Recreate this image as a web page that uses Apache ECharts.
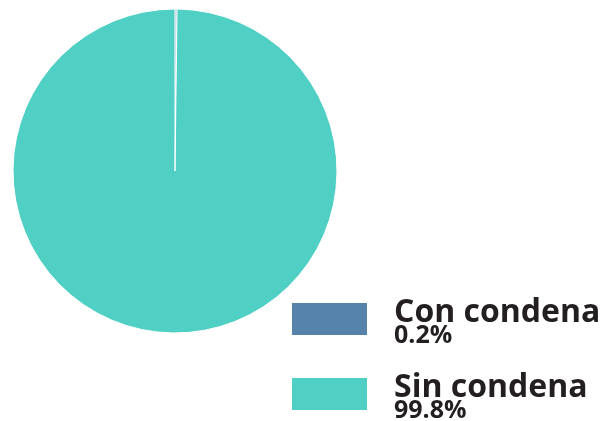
<!DOCTYPE html>
<html>
<head>
<meta charset="utf-8">
<style>
  html, body { margin: 0; padding: 0; background: #ffffff; }
  #chart { width: 614px; height: 421px; }
</style>
<script src="https://cdn.jsdelivr.net/npm/echarts@6/dist/echarts.min.js"></script>
</head>
<body>
<div id="chart"></div>
<script>
// Share of cases with and without a conviction
const categories = ['Con condena', 'Sin condena'];
const shares = [0.2, 99.8];
const colors = ['#5583a9', '#50d0c4'];

const chart = echarts.init(document.getElementById('chart'), null, { renderer: 'canvas' });

const pieData = categories.map((name, i) => ({
  name: name,
  value: shares[i],
  itemStyle: { color: colors[i] }
}));

// One legend block per category, stacked down the right-hand side
const legendTops = [297, 372];
const legends = categories.map((name, i) => ({
  orient: 'vertical',
  left: 292,
  top: legendTops[i],
  padding: 0,
  itemWidth: 75,
  itemHeight: 32,
  icon: 'rect',
  itemStyle: { borderWidth: 0 },
  selectedMode: false,
  data: [name],
  formatter: function (n) {
    const k = categories.indexOf(n);
    return '{n|' + n + '}\n{v|' + shares[k].toFixed(1) + '%}';
  },
  textStyle: {
    padding: [0, 0, 0, 22],
    rich: {
      n: {
        fontFamily: 'Open Sans',
        fontWeight: 'bold',
        fontSize: 32,
        lineHeight: 34,
        color: '#231f20'
      },
      v: {
        fontFamily: 'Open Sans',
        fontWeight: 'bold',
        fontSize: 25,
        lineHeight: 12,
        color: '#231f20'
      }
    }
  }
}));

chart.setOption({
  animation: false,
  backgroundColor: '#ffffff',
  legend: legends,
  series: [{
    type: 'pie',
    center: [175, 171],
    radius: 162,
    startAngle: 90,
    clockwise: true,
    label: { show: false },
    labelLine: { show: false },
    emphasis: { disabled: true },
    itemStyle: { borderColor: '#ffffff', borderWidth: 1 },
    data: pieData
  }]
});
</script>
</body>
</html>
